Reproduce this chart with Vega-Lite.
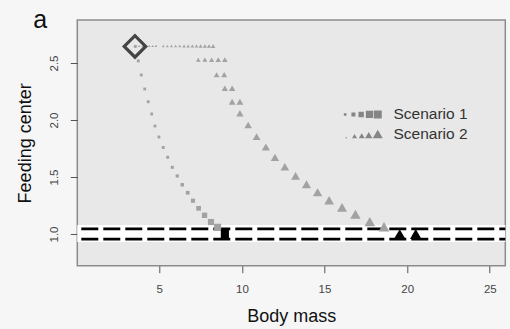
{
  "$schema": "https://vega.github.io/schema/vega-lite/v6.json",
  "width": 428,
  "height": 245.7,
  "autosize": {"type": "none"},
  "padding": {"left": 77.3, "top": 20, "right": 4.7, "bottom": 63.3},
  "background": "#f6f6f6",
  "config": {
    "view": {"fill": "#e8e8e8", "stroke": "#8c8c8c", "strokeWidth": 1.5},
    "font": "Liberation Sans"
  },
  "title": {"text": "a", "anchor": "start", "frame": "group", "fontSize": 25, "font": "Liberation Sans", "fontWeight": "normal", "color": "#111111", "offset": 0, "dx": -44, "dy": 33, "baseline": "alphabetic"},
  "datasets": {
    "band": [{"lo": 0.93, "hi": 1.08}],
    "thresholds": [{"level": 0.955}, {"level": 1.045}],
    "start": [{"body_mass": 3.53, "feeding_center": 2.645}],
    "traj": [
      {"scenario": "Scenario 1", "step": 0, "body_mass": 3.55, "feeding_center": 2.645, "state": "transient"},
      {"scenario": "Scenario 1", "step": 1, "body_mass": 3.73, "feeding_center": 2.518, "state": "transient"},
      {"scenario": "Scenario 1", "step": 2, "body_mass": 3.91, "feeding_center": 2.395, "state": "transient"},
      {"scenario": "Scenario 1", "step": 3, "body_mass": 4.12, "feeding_center": 2.272, "state": "transient"},
      {"scenario": "Scenario 1", "step": 4, "body_mass": 4.33, "feeding_center": 2.16, "state": "transient"},
      {"scenario": "Scenario 1", "step": 5, "body_mass": 4.54, "feeding_center": 2.053, "state": "transient"},
      {"scenario": "Scenario 1", "step": 6, "body_mass": 4.74, "feeding_center": 1.947, "state": "transient"},
      {"scenario": "Scenario 1", "step": 7, "body_mass": 4.98, "feeding_center": 1.851, "state": "transient"},
      {"scenario": "Scenario 1", "step": 8, "body_mass": 5.24, "feeding_center": 1.759, "state": "transient"},
      {"scenario": "Scenario 1", "step": 9, "body_mass": 5.51, "feeding_center": 1.673, "state": "transient"},
      {"scenario": "Scenario 1", "step": 10, "body_mass": 5.79, "feeding_center": 1.585, "state": "transient"},
      {"scenario": "Scenario 1", "step": 11, "body_mass": 6.09, "feeding_center": 1.509, "state": "transient"},
      {"scenario": "Scenario 1", "step": 12, "body_mass": 6.39, "feeding_center": 1.432, "state": "transient"},
      {"scenario": "Scenario 1", "step": 13, "body_mass": 6.72, "feeding_center": 1.362, "state": "transient"},
      {"scenario": "Scenario 1", "step": 14, "body_mass": 7.04, "feeding_center": 1.292, "state": "transient"},
      {"scenario": "Scenario 1", "step": 15, "body_mass": 7.38, "feeding_center": 1.225, "state": "transient"},
      {"scenario": "Scenario 1", "step": 16, "body_mass": 7.74, "feeding_center": 1.164, "state": "transient"},
      {"scenario": "Scenario 1", "step": 17, "body_mass": 8.13, "feeding_center": 1.105, "state": "transient"},
      {"scenario": "Scenario 1", "step": 18, "body_mass": 8.53, "feeding_center": 1.059, "state": "transient"},
      {"scenario": "Scenario 1", "step": 19, "body_mass": 8.97, "feeding_center": 1.0, "state": "final"},
      {"scenario": "Scenario 2", "step": 0, "body_mass": 3.56, "feeding_center": 2.649, "state": "transient"},
      {"scenario": "Scenario 2", "step": 1, "body_mass": 3.78, "feeding_center": 2.649, "state": "transient"},
      {"scenario": "Scenario 2", "step": 2, "body_mass": 3.99, "feeding_center": 2.649, "state": "transient"},
      {"scenario": "Scenario 2", "step": 3, "body_mass": 4.2, "feeding_center": 2.649, "state": "transient"},
      {"scenario": "Scenario 2", "step": 4, "body_mass": 4.4, "feeding_center": 2.649, "state": "transient"},
      {"scenario": "Scenario 2", "step": 5, "body_mass": 4.6, "feeding_center": 2.649, "state": "transient"},
      {"scenario": "Scenario 2", "step": 6, "body_mass": 4.8, "feeding_center": 2.649, "state": "transient"},
      {"scenario": "Scenario 2", "step": 7, "body_mass": 5.24, "feeding_center": 2.649, "state": "transient"},
      {"scenario": "Scenario 2", "step": 8, "body_mass": 5.49, "feeding_center": 2.649, "state": "transient"},
      {"scenario": "Scenario 2", "step": 9, "body_mass": 5.74, "feeding_center": 2.649, "state": "transient"},
      {"scenario": "Scenario 2", "step": 10, "body_mass": 5.99, "feeding_center": 2.649, "state": "transient"},
      {"scenario": "Scenario 2", "step": 11, "body_mass": 6.24, "feeding_center": 2.649, "state": "transient"},
      {"scenario": "Scenario 2", "step": 12, "body_mass": 6.5, "feeding_center": 2.649, "state": "transient"},
      {"scenario": "Scenario 2", "step": 13, "body_mass": 6.75, "feeding_center": 2.649, "state": "transient"},
      {"scenario": "Scenario 2", "step": 14, "body_mass": 7.0, "feeding_center": 2.649, "state": "transient"},
      {"scenario": "Scenario 2", "step": 15, "body_mass": 7.25, "feeding_center": 2.649, "state": "transient"},
      {"scenario": "Scenario 2", "step": 16, "body_mass": 7.5, "feeding_center": 2.649, "state": "transient"},
      {"scenario": "Scenario 2", "step": 17, "body_mass": 7.76, "feeding_center": 2.649, "state": "transient"},
      {"scenario": "Scenario 2", "step": 18, "body_mass": 8.01, "feeding_center": 2.649, "state": "transient"},
      {"scenario": "Scenario 2", "step": 19, "body_mass": 8.26, "feeding_center": 2.649, "state": "transient"},
      {"scenario": "Scenario 2", "step": 20, "body_mass": 7.36, "feeding_center": 2.529, "state": "transient"},
      {"scenario": "Scenario 2", "step": 21, "body_mass": 7.76, "feeding_center": 2.529, "state": "transient"},
      {"scenario": "Scenario 2", "step": 22, "body_mass": 8.17, "feeding_center": 2.529, "state": "transient"},
      {"scenario": "Scenario 2", "step": 23, "body_mass": 8.57, "feeding_center": 2.529, "state": "transient"},
      {"scenario": "Scenario 2", "step": 24, "body_mass": 8.97, "feeding_center": 2.529, "state": "transient"},
      {"scenario": "Scenario 2", "step": 25, "body_mass": 8.47, "feeding_center": 2.397, "state": "transient"},
      {"scenario": "Scenario 2", "step": 26, "body_mass": 8.93, "feeding_center": 2.397, "state": "transient"},
      {"scenario": "Scenario 2", "step": 27, "body_mass": 8.97, "feeding_center": 2.278, "state": "transient"},
      {"scenario": "Scenario 2", "step": 28, "body_mass": 9.41, "feeding_center": 2.278, "state": "transient"},
      {"scenario": "Scenario 2", "step": 29, "body_mass": 9.41, "feeding_center": 2.16, "state": "transient"},
      {"scenario": "Scenario 2", "step": 30, "body_mass": 9.88, "feeding_center": 2.16, "state": "transient"},
      {"scenario": "Scenario 2", "step": 31, "body_mass": 9.88, "feeding_center": 2.059, "state": "transient"},
      {"scenario": "Scenario 2", "step": 32, "body_mass": 10.38, "feeding_center": 1.956, "state": "transient"},
      {"scenario": "Scenario 2", "step": 33, "body_mass": 10.89, "feeding_center": 1.855, "state": "transient"},
      {"scenario": "Scenario 2", "step": 34, "body_mass": 11.45, "feeding_center": 1.763, "state": "transient"},
      {"scenario": "Scenario 2", "step": 35, "body_mass": 12.0, "feeding_center": 1.673, "state": "transient"},
      {"scenario": "Scenario 2", "step": 36, "body_mass": 12.6, "feeding_center": 1.59, "state": "transient"},
      {"scenario": "Scenario 2", "step": 37, "body_mass": 13.25, "feeding_center": 1.509, "state": "transient"},
      {"scenario": "Scenario 2", "step": 38, "body_mass": 13.91, "feeding_center": 1.436, "state": "transient"},
      {"scenario": "Scenario 2", "step": 39, "body_mass": 14.58, "feeding_center": 1.366, "state": "transient"},
      {"scenario": "Scenario 2", "step": 40, "body_mass": 15.28, "feeding_center": 1.296, "state": "transient"},
      {"scenario": "Scenario 2", "step": 41, "body_mass": 16.06, "feeding_center": 1.234, "state": "transient"},
      {"scenario": "Scenario 2", "step": 42, "body_mass": 16.87, "feeding_center": 1.173, "state": "transient"},
      {"scenario": "Scenario 2", "step": 43, "body_mass": 17.74, "feeding_center": 1.108, "state": "transient"},
      {"scenario": "Scenario 2", "step": 44, "body_mass": 18.6, "feeding_center": 1.064, "state": "transient"},
      {"scenario": "Scenario 2", "step": 45, "body_mass": 19.55, "feeding_center": 1.0, "state": "final"},
      {"scenario": "Scenario 2", "step": 46, "body_mass": 20.52, "feeding_center": 1.0, "state": "final"}
    ]
  },
  "resolve": {"scale": {"size": "independent"}, "legend": {"size": "independent"}},
  "layer": [
    {
      "data": {"name": "band"},
      "mark": {"type": "rect", "fill": "#ffffff"},
      "encoding": {
        "x": {"value": 0},
        "x2": {"value": "width"},
        "y": {"field": "lo", "type": "quantitative", "scale": {"domain": [0.722, 2.877], "nice": false, "zero": false},
          "axis": {"title": "Feeding center", "values": [1.0, 1.5, 2.0, 2.5], "format": ".1f", "domain": false, "grid": false,
            "tickSize": 7, "tickColor": "#555555", "labelAngle": 270, "labelAlign": "center", "labelBaseline": "alphabetic", "labelPadding": 13,
            "labelFontSize": 11.5, "labelColor": "#444444", "labelFont": "Liberation Sans",
            "titleFontSize": 18, "titleFont": "Liberation Sans", "titleFontWeight": "normal", "titleColor": "#111111",
            "titleBaseline": "alphabetic", "titleAngle": 270, "titleX": -47.3, "titleY": 122.85, "titleAlign": "center"}},
        "y2": {"field": "hi"}
      }
    },
    {
      "data": {"name": "thresholds"},
      "mark": {"type": "rule", "color": "#000000", "strokeWidth": 2.7, "strokeDash": [17, 5], "strokeDashOffset": 11},
      "encoding": {"y": {"field": "level", "type": "quantitative"}}
    },
    {
      "data": {"name": "traj"},
      "mark": {"type": "point", "filled": true, "opacity": 0, "strokeWidth": 0, "color": "#858585"},
      "encoding": {
        "x": {"field": "body_mass", "type": "quantitative", "scale": {"domain": [0.04, 25.94], "nice": false, "zero": false},
          "axis": {"title": "Body mass", "values": [5, 10, 15, 20, 25], "domain": false, "grid": false,
            "tickSize": 7, "tickColor": "#555555", "labelPadding": 11, "labelFontSize": 11.5, "labelColor": "#444444", "labelFont": "Liberation Sans",
            "titleFontSize": 18, "titleFont": "Liberation Sans", "titleFontWeight": "normal", "titleColor": "#111111",
            "titleBaseline": "alphabetic", "titleY": 56}},
        "y": {"field": "feeding_center", "type": "quantitative"},
        "shape": {"field": "scenario", "type": "nominal",
          "scale": {"domain": ["Scenario 1", "Scenario 2"], "range": [
            "M-8.48,-0.33h0.66v0.66h-0.66Z M-6.58,-0.5h1v1h-1Z M-4.82,-0.67h1.34v1.34h-1.34Z M-2.98,-0.9h1.8v1.8h-1.8Z M-1,-1h2v2h-2Z",
            "M-7.9,0.62L-7.65,1.05L-8.15,1.05Z M-5.8,-0.02L-5.18,1.05L-6.42,1.05Z M-4,-0.25L-3.25,1.05L-4.75,1.05Z M-2.25,-0.54L-1.33,1.05L-3.17,1.05Z M0,-1.12L1.25,1.05L-1.25,1.05Z"]},
          "legend": {"title": null, "orient": "none", "legendX": 292.7, "legendY": 86.7, "symbolSize": 64, "labelFontSize": 15.5,
            "labelFont": "Liberation Sans", "labelColor": "#333333", "labelOffset": 8, "rowPadding": 2.7, "padding": 0,
            "symbolStrokeWidth": 0, "symbolOpacity": 1, "symbolFillColor": "#858585"}}
      }
    },
    {
      "data": {"name": "traj"},
      "transform": [{"filter": "datum.scenario === 'Scenario 1'"}],
      "mark": {"type": "point", "shape": "square", "filled": true, "opacity": 1, "strokeWidth": 0},
      "encoding": {
        "x": {"field": "body_mass", "type": "quantitative"},
        "y": {"field": "feeding_center", "type": "quantitative"},
        "size": {"field": "step", "type": "quantitative", "scale": {"type": "pow", "exponent": 6, "domain": [0, 19], "range": [8, 66]}, "legend": null},
        "color": {"field": "state", "type": "nominal", "scale": {"domain": ["transient", "final"], "range": ["#a2a2a2", "#000000"]}, "legend": null}
      }
    },
    {
      "data": {"name": "traj"},
      "transform": [{"filter": "datum.scenario === 'Scenario 2'"}],
      "mark": {"type": "point", "shape": "triangle-up", "filled": true, "opacity": 1, "strokeWidth": 0},
      "encoding": {
        "x": {"field": "body_mass", "type": "quantitative"},
        "y": {"field": "feeding_center", "type": "quantitative"},
        "size": {"field": "step", "type": "quantitative", "scale": {"type": "pow", "exponent": 2.5, "domain": [0, 46], "range": [6, 132]}, "legend": null},
        "color": {"field": "state", "type": "nominal", "legend": null}
      }
    },
    {
      "data": {"name": "start"},
      "mark": {"type": "point", "shape": "diamond", "filled": false, "stroke": "#444444", "strokeWidth": 3.2, "size": 460, "opacity": 1},
      "encoding": {
        "x": {"field": "body_mass", "type": "quantitative"},
        "y": {"field": "feeding_center", "type": "quantitative"}
      }
    }
  ]
}
